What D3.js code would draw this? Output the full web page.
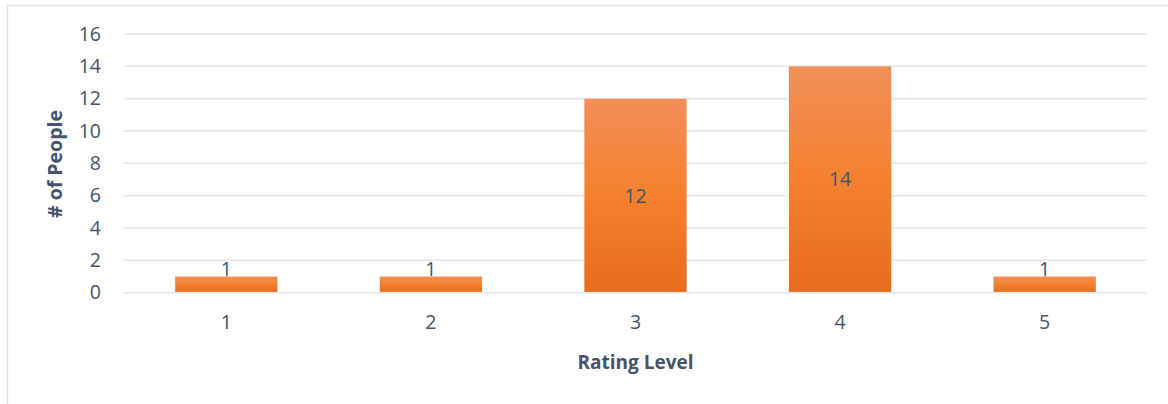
<!DOCTYPE html>
<html><head><meta charset="utf-8">
<script src="https://cdn.jsdelivr.net/npm/d3@7"></script>
<style>html,body{margin:0;padding:0;background:#fff;}svg{display:block;}</style>
</head><body>
<svg id="c" width="1168" height="404"></svg>
<script>
const categories = ["1","2","3","4","5"];
const values = [1,1,12,14,1];
const yTicks = [0,2,4,6,8,10,12,14,16];
const xTitle = "Rating Level";
const yTitle = "# of People";

const svg = d3.select("#c");
const textColor = "#44546a";
const font = "'Open Sans', sans-serif";
const L = 124, R = 1147, T = 34, B = 292.7;

// frame
svg.append("path").attr("d","M7.5,404 V5.5 H1168").attr("fill","none").attr("stroke","#dfe3e8").attr("stroke-width",1.5);

const x = d3.scaleBand().domain(categories).range([L,R]).paddingInner(0.5).paddingOuter(0.25);
const y = d3.scaleLinear().domain([0,16]).range([B,T]);

const defs = svg.append("defs");
const g = defs.append("linearGradient").attr("id","bg").attr("x1",0).attr("y1",0).attr("x2",0).attr("y2",1).attr("gradientUnits","objectBoundingBox");
g.append("stop").attr("offset","0%").attr("stop-color","#f18f58");
g.append("stop").attr("offset","50%").attr("stop-color","#f4812f");
g.append("stop").attr("offset","100%").attr("stop-color","#e66c1d");

// grid
svg.append("g").selectAll("line").data(yTicks).join("line")
  .attr("x1",L).attr("x2",R).attr("y1",d=>y(d)).attr("y2",d=>y(d))
  .attr("stroke","#e1e5ea").attr("stroke-width",1.5);

// y axis labels
const yAxis = d3.axisLeft(y).tickValues(yTicks).tickSize(0).tickPadding(0);
const ya = svg.append("g").attr("transform",`translate(${101},0)`).call(yAxis);
ya.select(".domain").remove();
ya.selectAll("text").attr("fill",textColor).style("font-family",font).style("font-size","19.5px");

// x axis labels
const xAxis = d3.axisBottom(x).tickSize(0).tickPadding(0);
const xa = svg.append("g").attr("transform",`translate(0,${315})`).call(xAxis);
xa.select(".domain").remove();
xa.selectAll("text").attr("fill",textColor).style("font-family",font).style("font-size","19.5px");

// bars
svg.append("g").selectAll("rect").data(values).join("rect")
  .attr("x",(d,i)=>x(categories[i])).attr("width",x.bandwidth())
  .attr("y",d=>y(d)).attr("height",d=>B-y(d)-0.8)
  .attr("fill","url(#bg)");

// value labels
svg.append("g").selectAll("text").data(values).join("text")
  .attr("x",(d,i)=>x(categories[i])+x.bandwidth()/2)
  .attr("y",d=> d>=4 ? (y(d)+B)/2 : y(d)-1)
  .attr("dy",d=> d>=4 ? "0.35em" : "0")
  .attr("text-anchor","middle").attr("fill",textColor)
  .style("font-family",font).style("font-size","19.5px")
  .text(d=>d);

// titles
svg.append("text").attr("x",(L+R)/2).attr("y",369).attr("text-anchor","middle")
  .attr("fill",textColor).style("font-family",font).style("font-size","19px").style("font-weight","bold").text(xTitle);
svg.append("text").attr("transform",`translate(62,${164}) rotate(-90)`).attr("text-anchor","middle")
  .attr("fill",textColor).style("font-family",font).style("font-size","19.5px").style("font-weight","bold").text(yTitle);
</script>
</body></html>
